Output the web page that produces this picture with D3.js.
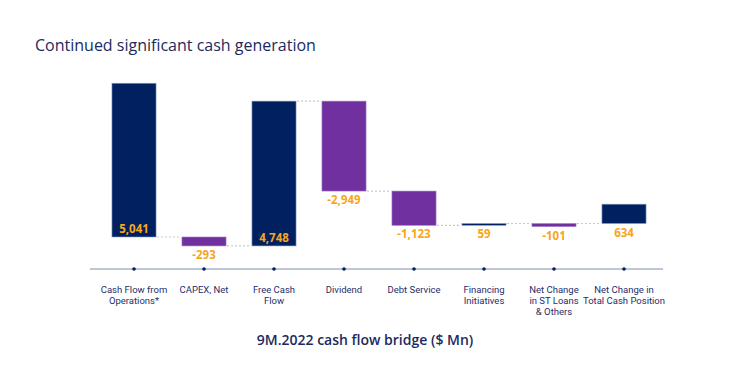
<!DOCTYPE html>
<html>
<head>
<meta charset="utf-8">
<script src="https://cdn.jsdelivr.net/npm/d3@7"></script>
<style>
  body { margin: 0; background: #fff; }
  svg { display: block; }
</style>
</head>
<body>
<svg id="chart" width="734" height="392"></svg>
<script>
// cash flow bridge, $ Mn
var categories = ["Cash Flow from\nOperations*", "CAPEX, Net", "Free Cash\nFlow", "Dividend",
  "Debt Service", "Financing\nInitiatives", "Net Change\nin ST Loans\n& Others", "Net Change in\nTotal Cash Position"];
var values = [5041, -293, 4748, -2949, -1123, 59, -101, 634];
// total = full bar, base = deducted at the bottom, step = floating change, end = closing bar
var kinds = ["total", "base", "total", "step", "step", "step", "step", "end"];

var navy = "#002060", purple = "#7030a0", orange = "#f9a51a";

var svg = d3.select("#chart");

svg.append("text")
    .attr("x", 35).attr("y", 51)
    .attr("fill", "#1b2a5e")
    .style("font", "16px 'Open Sans', sans-serif")
    .text("Continued significant cash generation");

svg.append("text")
    .attr("x", 365).attr("y", 345)
    .attr("text-anchor", "middle")
    .attr("fill", "#1b2a5e")
    .style("font", "600 14px 'Open Sans', sans-serif")
    .text("9M.2022 cash flow bridge ($ Mn)");

// work out where each bar starts and ends
var bars = [];
var base = 0, run = 0;
values.forEach(function(v, i) {
  var k = kinds[i], s, e;
  if (k == "total") { s = base; e = base + v; run = e; }
  else if (k == "base") { s = base; e = base + v; base = e; }
  else if (k == "step") { s = run; e = run + v; run = e; }
  else { var p = bars[i - 1]; s = Math.max(p.s, p.e); e = s + v; }
  bars.push({cat: categories[i], v: v, kind: k, s: s, e: e});
});

var x = d3.scaleBand()
    .domain(categories)
    .range([99, 659])
    .paddingInner(0.37)
    .paddingOuter(0.185);

var y = d3.scaleLinear()
    .domain([0, 5000])
    .range([237, 84.5]);

var fmt = d3.format(",");
var lbl = v => (v < 0 ? "-" : "") + fmt(Math.abs(v));

// dotted connectors
var g = svg.append("g");
g.selectAll("line.conn")
  .data(bars.slice(1))
  .enter().append("line")
    .attr("class", "conn")
    .attr("x1", (d, i) => x(bars[i].cat) + x.bandwidth() + 1)
    .attr("x2", d => x(d.cat) - 1)
    .attr("y1", d => y(d.s))
    .attr("y2", d => y(d.s))
    .attr("stroke", "#c9c9c9")
    .attr("stroke-width", 1.2)
    .attr("stroke-dasharray", "2,2");

g.selectAll("rect")
  .data(bars)
  .enter().append("rect")
    .attr("x", d => x(d.cat))
    .attr("width", x.bandwidth())
    .attr("y", d => y(Math.max(d.s, d.e)))
    .attr("height", d => Math.max(1.5, Math.abs(y(d.s) - y(d.e))))
    .attr("fill", d => d.v < 0 ? purple : navy)
    .attr("stroke", d => d.v < 0 ? "#a57fca" : "#8a9ac4")
    .attr("stroke-width", 0.6);

g.selectAll("text.val")
  .data(bars)
  .enter().append("text")
    .attr("class", "val")
    .attr("x", d => x(d.cat) + x.bandwidth() / 2)
    .attr("y", function(d) {
      var bottom = y(Math.min(d.s, d.e));
      return d.kind == "total" ? bottom - 4 : bottom + 13;
    })
    .attr("text-anchor", "middle")
    .attr("fill", orange)
    .style("font", "bold 11.5px 'Open Sans', sans-serif")
    .text(d => lbl(d.v));

// axis
var axisY = 269;
svg.append("line")
    .attr("x1", 90).attr("x2", 663)
    .attr("y1", axisY).attr("y2", axisY)
    .attr("stroke", "#7f8bb0")
    .attr("stroke-width", 1.2);

svg.selectAll("circle.tick")
  .data(categories)
  .enter().append("circle")
    .attr("class", "tick")
    .attr("cx", d => x(d) + x.bandwidth() / 2)
    .attr("cy", axisY)
    .attr("r", 1.8)
    .attr("fill", navy);

var cl = svg.selectAll("text.cat")
  .data(categories)
  .enter().append("text")
    .attr("class", "cat")
    .attr("text-anchor", "middle")
    .attr("fill", "#1f2d6b")
    .style("font", "9.5px 'Liberation Sans Narrow', Roboto, sans-serif");

cl.selectAll("tspan")
  .data(d => d.split("\n").map(t => ({t: t, c: d})))
  .enter().append("tspan")
    .attr("x", d => x(d.c) + x.bandwidth() / 2)
    .attr("y", (d, i) => 292.5 + i * 11)
    .text(d => d.t);
</script>
</body>
</html>
